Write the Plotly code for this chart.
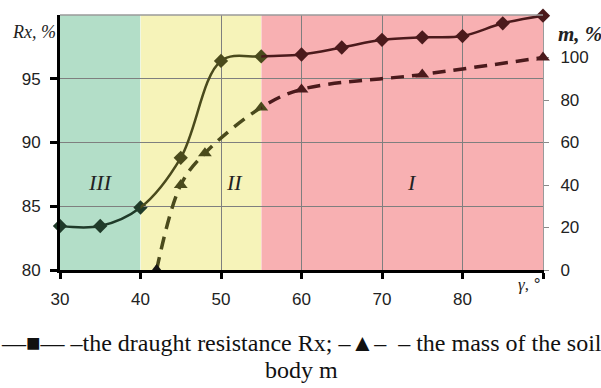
import plotly.graph_objects as go

# ---- data ----
gamma_rx = [30, 35, 40, 45, 50, 55, 60, 65, 70, 75, 80, 85, 90]
rx = [83.45, 83.45, 84.9, 88.8, 96.4, 96.75, 96.9, 97.45, 98.05, 98.25, 98.35, 99.35, 99.95]
gamma_m = [42, 45, 48, 55, 60, 75, 90]
m = [0, 40, 55, 76.5, 85, 92, 100]
region_bounds = [30, 40, 55, 90]
region_names = ["III", "II", "I"]
region_label_x = [35, 51.7, 73.7]
rx_ticks = [80, 85, 90, 95]
m_ticks = [0, 20, 40, 60, 80, 100]

# ---- styles ----
region_fill = ["#b3dec8", "#f6f3b9", "#f8b0b2"]
line_col = ["#1f3a29", "#4a4a1c", "#4b1a1c"]
axes_ids = ["x", "x2", "x3"]
span = region_bounds[-1] - region_bounds[0]

fig = go.Figure()

def region_of(g):
    for i in range(3):
        if g <= region_bounds[i + 1]:
            return i
    return 2

# lines: draw full series in each region subplot (clipped to that region)
for i, xa in enumerate(axes_ids):
    fig.add_trace(go.Scatter(x=gamma_m, y=m, mode="lines", xaxis=xa, yaxis="y2",
                             line=dict(shape="spline", color=line_col[i], width=3.5, dash="13px,8px"),
                             showlegend=False, hoverinfo="skip"))
    fig.add_trace(go.Scatter(x=gamma_rx, y=rx, mode="lines", xaxis=xa, yaxis="y",
                             line=dict(shape="spline", color=line_col[i], width=2.5),
                             showlegend=False, hoverinfo="skip"))

# markers per region
for i, xa in enumerate(axes_ids):
    gx = [g for g in gamma_m if region_of(g) == i]
    gy = [v for g, v in zip(gamma_m, m) if region_of(g) == i]
    if gx:
        cols = ["#151515" if v == 0 else line_col[i] for v in gy]
        fig.add_trace(go.Scatter(x=gx, y=gy, mode="markers", xaxis=xa, yaxis="y2",
                                 marker=dict(symbol="triangle-up", size=12, color=cols),
                                 cliponaxis=False, showlegend=False))
    gx = [g for g in gamma_rx if region_of(g) == i]
    gy = [v for g, v in zip(gamma_rx, rx) if region_of(g) == i]
    if gx:
        fig.add_trace(go.Scatter(x=gx, y=gy, mode="markers", xaxis=xa, yaxis="y",
                                 marker=dict(symbol="diamond", size=11, color=line_col[i]),
                                 cliponaxis=False, showlegend=False))

tickfont = dict(family="Liberation Sans, Arial, sans-serif", size=17, color="#222222")
xcommon = dict(showline=True, linecolor="black", linewidth=3, ticks="outside", ticklen=6,
               tickwidth=3, tickcolor="black", showgrid=True, gridcolor="#7f7f7f", gridwidth=1,
               zeroline=False, tickfont=tickfont, anchor="y", fixedrange=True,
               ticklabelstandoff=6)

layout_axes = {}
tick_sets = [[30], [40, 50], [60, 70, 80, 90]]
for i, xa in enumerate(axes_ids):
    key = "xaxis" if i == 0 else f"xaxis{i+1}"
    d0 = (region_bounds[i] - region_bounds[0]) / span
    d1 = (region_bounds[i + 1] - region_bounds[0]) / span
    tv = tick_sets[i]
    tt = ["" if v == 90 else str(v) for v in tv]
    layout_axes[key] = dict(xcommon, domain=[d0, d1], range=[region_bounds[i], region_bounds[i + 1]],
                            tickvals=tv, ticktext=tt)

fig.update_layout(**layout_axes)
fig.update_layout(
    width=601, height=388,
    margin=dict(l=60, r=58, t=15, b=118, autoexpand=False),
    paper_bgcolor="white", plot_bgcolor="rgba(0,0,0,0)",
    yaxis=dict(range=[80, 100], tickvals=rx_ticks, anchor="x", side="left",
               showline=True, linecolor="black", linewidth=3, ticks="outside", ticklen=7,
               tickwidth=3, tickcolor="black", showgrid=True, gridcolor="#7f7f7f", gridwidth=1,
               zeroline=False, tickfont=tickfont, fixedrange=True, ticklabelstandoff=6),
    yaxis2=dict(range=[0, 120], tickvals=m_ticks, overlaying="y", anchor="x3", side="right",
                showline=True, linecolor="#9a9a9a", linewidth=1, ticks="outside", ticklen=5,
                tickwidth=1, tickcolor="#8a8a8a", showgrid=False, zeroline=False,
                tickfont=tickfont, fixedrange=True, ticklabelstandoff=8),
    showlegend=False,
)

# region backgrounds
for i in range(3):
    fig.add_shape(type="rect", xref=axes_ids[i], yref="paper",
                  x0=region_bounds[i], x1=region_bounds[i + 1], y0=0, y1=1,
                  fillcolor=region_fill[i], line=dict(width=0), layer="below")
# top border
fig.add_shape(type="line", xref="paper", yref="paper", x0=0, x1=1, y0=1, y1=1,
              line=dict(color="#9a9a9a", width=1.5))

serif = "Liberation Serif, Times New Roman, serif"
for i in range(3):
    fig.add_annotation(x=region_label_x[i], y=86.9, xref=axes_ids[i], yref="y",
                       text=f"<i>{region_names[i]}</i>", showarrow=False,
                       font=dict(family=serif, size=22, color="#222222"))

fig.add_annotation(x=-0.004, y=0.98, xref="paper", yref="paper", xanchor="right",
                   text="<i>Rx, %</i>",
                   showarrow=False, font=dict(family=serif, size=18, color="#222222"))
fig.add_annotation(x=1.027, y=0.98, xref="paper", yref="paper", xanchor="left",
                   text="<b><i>m, %</i></b>",
                   showarrow=False, font=dict(family=serif, size=21, color="#222222"))
fig.add_annotation(x=0.997, y=-0.102, xref="paper", yref="paper",
                   text="<span style='font-family:Liberation Serif'><i>γ</i>,</span> °",
                   showarrow=False, font=dict(family="Liberation Sans, Arial", size=17, color="#222222"))

fig.add_annotation(x=0.5, y=-0.286, xref="paper", yref="paper", xanchor="center", yanchor="middle",
                   text="—■— –the draught resistance Rx; –▲–  – the mass of the soil",
                   showarrow=False, font=dict(family=serif, size=24, color="#111111"))
fig.add_annotation(x=0.5, y=-0.392, xref="paper", yref="paper", xanchor="center", yanchor="middle",
                   text="body m",
                   showarrow=False, font=dict(family=serif, size=24, color="#111111"))

fig.write_html("out.html", config={"displayModeBar": False},
               post_script="document.body.style.margin='0px';")
